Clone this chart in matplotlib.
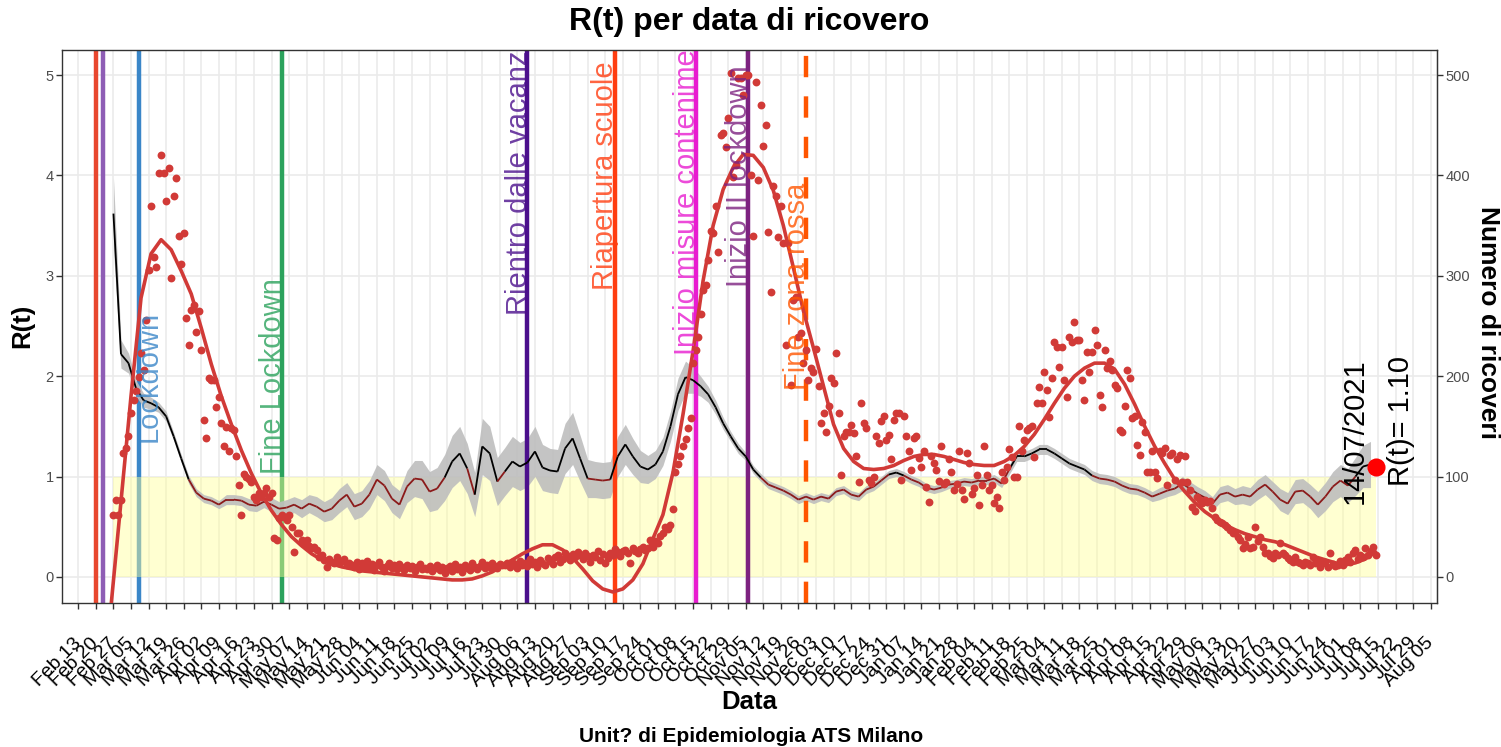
import matplotlib
matplotlib.use("Agg")
import matplotlib.pyplot as plt
import matplotlib.dates as mdates
from matplotlib.collections import LineCollection
import numpy as np
import pandas as pd

plt.rcParams["font.family"] = ["Liberation Sans", "DejaVu Sans"]

# ricoveri giornalieri (asse destro), dal 27/02/2020 al 14/07/2021
ricoveri_start = "2020-02-27"
ricoveri = [
    62, 77, 62,
    77, 123, 128, 140, 163, 176, 185, 199, 223, 206, 256, 306, 370, 319, 309, 402, 420, 402, 375, 407, 298, 380, 397, 340, 312, 343, 258, 231, 266, 271, 244,
    265, 226, 156, 138, 198, 196, 196, 169, 179, 153, 130, 149, 125, 148, 146, 120, 92, 62, 103, 100, 98, 95, 80, 77, 84, 80, 84, 89, 80, 84,
    39, 37, 59, 62, 60, 57, 62, 50, 25, 44, 44, 37, 33, 37, 31, 29, 30, 27, 20, 22, 17, 10, 18, 15, 14, 20, 14, 16, 18, 12, 14,
    12, 10, 15, 8, 14, 11, 16, 9, 13, 7, 12, 15, 10, 6, 11, 14, 9, 12, 8, 13, 10, 7, 12, 9, 11, 6, 10, 13, 8, 9,
    8, 11, 6, 9, 12, 7, 10, 4, 9, 11, 6, 13, 8, 10, 5, 12, 9, 7, 14, 10, 8, 11, 15, 9, 12, 10, 14, 11, 9, 13, 12,
    12, 14, 10, 15, 13, 9, 16, 12, 14, 11, 18, 13, 15, 10, 17, 14, 12, 19, 16, 13, 20, 22, 15, 18, 24, 21, 17, 23, 20, 25, 22,
    18, 24, 21, 15, 22, 20, 26, 17, 23, 14, 19, 24, 22, 28, 25, 21, 26, 27, 24, 14, 29, 26, 24, 28, 30, 27, 29, 37, 30, 36,
    34, 41, 44, 50, 48, 52, 68, 105, 112, 120, 130, 137, 148, 158, 213, 226, 239, 262, 286, 291, 316, 345, 343, 370, 324, 440, 442, 428, 457, 502, 398,
    410, 497, 497, 480, 500, 500, 400, 340, 493, 395, 470, 429, 450, 344, 284, 389, 380, 339, 370, 333, 231, 333, 191, 276, 279, 239, 243, 213, 226, 196,
    208, 204, 227, 190, 153, 163, 144, 170, 198, 193, 223, 163, 102, 140, 144, 144, 151, 143, 120, 95, 173, 153, 148, 97, 94, 100, 140, 133, 155, 160, 136,
    141, 117, 156, 163, 163, 97, 160, 140, 125, 107, 138, 140, 118, 110, 125, 90, 75, 120, 113, 107, 96, 130, 93, 95, 117, 105, 87, 93, 125, 87, 78,
    123, 113, 83, 89, 102, 72, 92, 130, 102, 87, 92, 74, 80, 69, 105, 97, 110, 127, 119, 100, 100, 150, 125, 136, 146, 148, 150, 119,
    173, 189, 173, 204, 186, 159, 198, 234, 229, 209, 229, 196, 179, 239, 234, 254, 236, 236, 196, 176, 224, 204, 224, 246, 231, 181, 169, 226, 208, 215, 206,
    191, 188, 146, 144, 170, 206, 198, 158, 160, 131, 121, 154, 144, 105, 105, 125, 105, 99, 125, 123, 128, 92, 121, 123, 97, 117, 121, 95, 120, 95,
    87, 70, 66, 80, 77, 74, 77, 75, 76, 69, 60, 57, 55, 54, 52, 50, 47, 44, 44, 40, 37, 29, 33, 40, 29, 30, 50, 36, 40, 30, 24,
    24, 21, 19, 24, 22, 34, 24, 22, 19, 17, 15, 20, 15, 14, 12, 15, 14, 12, 20, 14, 15, 10, 14, 15, 10, 24, 13, 11, 12, 16,
    12, 17, 20, 15, 24, 27, 18, 22, 20, 29, 22, 26, 30, 22,
]

# stima di R(t) ogni 3 giorni e semi-ampiezza dell'intervallo di confidenza
rt_start = "2020-02-27"
rt = [
    3.62, 2.22, 2.13, 1.88, 1.76, 1.73, 1.69, 1.60, 1.40, 1.18,
    0.97, 0.84, 0.78, 0.76, 0.72, 0.77, 0.77, 0.76, 0.72, 0.71,
    0.75, 0.72, 0.68, 0.69, 0.72, 0.68, 0.73, 0.70, 0.65, 0.68,
    0.76, 0.82, 0.70, 0.73, 0.82, 0.97, 0.91, 0.78, 0.72, 0.90,
    0.98, 0.97, 0.85, 0.88, 0.99, 1.15, 1.23, 1.08, 0.82, 1.30,
    1.23, 0.95, 1.05, 1.15, 1.10, 1.14, 1.25, 1.09, 1.06, 1.05,
    1.28, 1.38, 1.18, 0.98, 0.97, 0.96, 0.97, 1.20, 1.32, 1.20,
    1.10, 1.07, 1.12, 1.25, 1.50, 1.82, 1.99, 1.96, 1.90, 1.82,
    1.69, 1.53, 1.40, 1.28, 1.20, 1.07, 0.99, 0.92, 0.89, 0.86,
    0.82, 0.77, 0.80, 0.77, 0.80, 0.78, 0.85, 0.87, 0.82, 0.80,
    0.87, 0.90, 0.96, 1.02, 1.04, 1.01, 0.97, 0.94, 0.89, 0.87,
    0.89, 0.92, 0.93, 0.95, 0.94, 0.96, 0.96, 0.98, 0.93, 1.07,
    1.20, 1.20, 1.23, 1.27, 1.27, 1.23, 1.18, 1.13, 1.10, 1.07,
    1.01, 0.98, 0.97, 0.95, 0.91, 0.88, 0.87, 0.84, 0.80, 0.83,
    0.86, 0.88, 0.93, 0.88, 0.83, 0.79, 0.73, 0.82, 0.84, 0.80,
    0.82, 0.80, 0.87, 0.92, 0.85, 0.77, 0.73, 0.85, 0.86, 0.80,
    0.72, 0.80, 0.90, 0.96, 0.91, 1.00, 1.10, 1.12,
]
rt_ci = [
    0.36, 0.14, 0.10, 0.08, 0.07, 0.06, 0.05, 0.05, 0.04, 0.04,
    0.04, 0.04, 0.04, 0.04, 0.04, 0.05, 0.05, 0.05, 0.06, 0.06,
    0.06, 0.07, 0.07, 0.08, 0.08, 0.09, 0.09, 0.10, 0.10, 0.11,
    0.12, 0.12, 0.13, 0.13, 0.14, 0.15, 0.15, 0.14, 0.14, 0.16,
    0.18, 0.19, 0.20, 0.21, 0.23, 0.26, 0.27, 0.25, 0.22, 0.28,
    0.27, 0.24, 0.24, 0.25, 0.24, 0.24, 0.25, 0.23, 0.22, 0.22,
    0.25, 0.26, 0.23, 0.19, 0.18, 0.18, 0.18, 0.20, 0.20, 0.18,
    0.16, 0.14, 0.14, 0.14, 0.15, 0.16, 0.16, 0.13, 0.10, 0.08,
    0.07, 0.06, 0.05, 0.05, 0.04, 0.04, 0.04, 0.04, 0.04, 0.04,
    0.04, 0.04, 0.04, 0.04, 0.04, 0.04, 0.04, 0.04, 0.04, 0.04,
    0.04, 0.04, 0.04, 0.04, 0.04, 0.04, 0.04, 0.04, 0.04, 0.04,
    0.04, 0.04, 0.04, 0.04, 0.04, 0.04, 0.04, 0.04, 0.04, 0.05,
    0.05, 0.05, 0.05, 0.05, 0.05, 0.05, 0.05, 0.05, 0.05, 0.05,
    0.05, 0.05, 0.05, 0.05, 0.05, 0.05, 0.05, 0.05, 0.05, 0.06,
    0.06, 0.06, 0.07, 0.07, 0.07, 0.07, 0.07, 0.08, 0.08, 0.08,
    0.09, 0.09, 0.10, 0.10, 0.10, 0.11, 0.11, 0.12, 0.12, 0.12,
    0.13, 0.14, 0.15, 0.16, 0.17, 0.19, 0.21, 0.23,
]

# curva lisciata dei ricoveri (in unita' di R, ricoveri/100), ogni 4 giorni
smooth_start = "2020-02-26"
smooth = [
    -0.30, 0.75, 1.80, 2.78, 3.22, 3.36, 3.26, 3.05, 2.82, 2.48,
    2.12, 1.80, 1.52, 1.26, 1.03, 0.83, 0.66, 0.52, 0.40, 0.31,
    0.23, 0.17, 0.13, 0.10, 0.08, 0.06, 0.05, 0.04, 0.03, 0.02,
    0.01, 0.00, -0.01, -0.02, -0.03, -0.03, -0.02, 0.01, 0.05, 0.11,
    0.17, 0.23, 0.28, 0.32, 0.32, 0.27, 0.19, 0.08, -0.04, -0.12,
    -0.15, -0.12, -0.03, 0.13, 0.38, 0.62, 1.04, 1.62, 2.25, 2.95,
    3.50, 3.86, 4.08, 4.21, 4.20, 4.08, 3.85, 3.50, 3.08, 2.65,
    2.28, 1.90, 1.52, 1.28, 1.15, 1.08, 1.07, 1.08, 1.11, 1.16,
    1.20, 1.22, 1.22, 1.20, 1.17, 1.14, 1.12, 1.11, 1.11, 1.15,
    1.21, 1.30, 1.42, 1.57, 1.73, 1.88, 2.00, 2.08, 2.13, 2.13,
    2.07, 1.92, 1.72, 1.50, 1.30, 1.13, 0.97, 0.85, 0.74, 0.65,
    0.58, 0.52, 0.47, 0.43, 0.40, 0.37, 0.35, 0.32, 0.28, 0.24,
    0.20, 0.17, 0.14, 0.12, 0.14, 0.18, 0.25,
]

eventi_date = ["2020-02-20", "2020-02-23", "2020-03-08", "2020-05-04", "2020-08-10",
               "2020-09-14", "2020-10-16", "2020-11-06", "2020-11-29"]
eventi_label = ["", "", "Lockdown", "Fine Lockdown", "Rientro dalle vacanze",
                "Riapertura scuole", "Inizio misure contenimento", "Inizio II lockdown", "Fine zona rossa"]
eventi_colori = ["#E8472E", "#8E5DB5", "#3A86C8", "#2BA25C", "#4B0F8C",
                 "#FF3D10", "#E81CD0", "#7D2280", "#FF5500"]

ultimo_giorno = "2021-07-14"
ultimo_rt = 1.10


def main():
    fig = plt.figure(figsize=(15.01, 7.47), dpi=100)
    W, H = 1501, 747
    ax = fig.add_axes([62 / W, 1 - 603 / H, (1437 - 62) / W, (603 - 50) / H])

    d_ric = mdates.date2num(pd.date_range(ricoveri_start, periods=len(ricoveri), freq="D").to_pydatetime())
    d_rt = mdates.date2num(pd.date_range(rt_start, periods=len(rt), freq="3D").to_pydatetime())
    d_sm = mdates.date2num(pd.date_range(smooth_start, periods=len(smooth), freq="4D").to_pydatetime())
    d_ev = mdates.date2num(pd.to_datetime(eventi_date).to_pydatetime())
    d_last = mdates.date2num(pd.Timestamp(ultimo_giorno).to_pydatetime())

    rt_arr = np.array(rt)
    ci_arr = np.array(rt_ci)
    ric_arr = np.array(ricoveri) / 100.0

    # linee verticali degli eventi (le prime quattro stanno sotto la banda gialla)
    for i, (d, col) in enumerate(zip(d_ev, eventi_colori)):
        ls = (0, (4.8, 4.3)) if eventi_label[i] == "Fine zona rossa" else "-"
        ax.axvline(d, color=col, lw=3.2, ls=ls, zorder=1 if i < 4 else 2.5)

    # banda R(t) < 1
    ax.fill_between([d_ric[0], d_last], 0, 1, color="#FFFF99", alpha=0.45, lw=0, zorder=1.5)

    # intervallo di confidenza e R(t)
    ax.fill_between(d_rt, rt_arr - ci_arr, rt_arr + ci_arr, color="#BEBEBE", alpha=0.9, lw=0, zorder=2)
    pts = np.column_stack([d_rt, rt_arr])
    segs = np.stack([pts[:-1], pts[1:]], axis=1)
    cols = ["black" if (a + b) / 2 > 1 else "#8B1A1A" for a, b in zip(rt_arr[:-1], rt_arr[1:])]
    ax.add_collection(LineCollection(segs, colors=cols, linewidths=1.3, zorder=3))

    # ricoveri e curva lisciata
    ax.scatter(d_ric, ric_arr, s=32, color="#D13A37", lw=0, zorder=4)
    ax.plot(d_sm, smooth, color="#D13A37", lw=2.6, zorder=5, solid_capstyle="round")

    # etichette degli eventi
    shift = [0, 0, 4.0, -3.5, -3.5, -4.0, -3.3, -3.6, -3.6]
    bottom = [0, 0, 1.34, 1.03, 2.61, 2.86, 2.21, 2.89, 1.86]
    for i, lab in enumerate(eventi_label):
        if not lab:
            continue
        ax.text(d_ev[i] + shift[i], bottom[i], lab, rotation=90, color=eventi_colori[i],
                fontsize=21, ha="center", va="bottom", alpha=0.8, clip_on=True, zorder=6)

    # ultimo valore
    ax.scatter([d_last], [ultimo_rt], s=170, color="#FF0000", lw=0, zorder=7)
    ax.text(d_last - 8.3, 1.45, pd.Timestamp(ultimo_giorno).strftime("%d/%m/%Y"), rotation=90,
            fontsize=21, ha="center", va="center", zorder=7)
    ax.text(d_last + 10, 1.55, "R(t)= %.2f" % ultimo_rt, rotation=90,
            fontsize=21, ha="center", va="center", zorder=7)

    # assi
    ticks = mdates.date2num(pd.date_range("2020-02-13", "2021-08-05", freq="7D").to_pydatetime())
    ax.set_xticks(ticks)
    ax.xaxis.set_major_formatter(mdates.DateFormatter("%b %d"))
    ax.set_xlim(mdates.date2num(pd.Timestamp("2020-02-06 12:00").to_pydatetime()),
                mdates.date2num(pd.Timestamp("2021-08-07 12:00").to_pydatetime()))
    ax.set_ylim(-0.26, 5.25)
    ax.set_yticks([0, 1, 2, 3, 4, 5])

    ax.grid(True, color="#EBEBEB", lw=1.2, zorder=0)
    ax.set_axisbelow(True)
    for sp in ax.spines.values():
        sp.set_color("#333333")
        sp.set_linewidth(1.0)

    ax.tick_params(axis="y", length=4, width=1, color="#333333", labelsize=10.5, labelcolor="#4D4D4D", pad=2)
    ax.tick_params(axis="x", length=4, width=1, color="#333333", labelsize=14, labelcolor="black", pad=23)
    for lab in ax.get_xticklabels():
        lab.set_rotation(45)
        lab.set_ha("right")
        lab.set_va("center")
        lab.set_rotation_mode("anchor")

    sec = ax.secondary_yaxis("right", functions=(lambda r: r * 100, lambda n: n / 100))
    sec.set_yticks([0, 100, 200, 300, 400, 500])
    sec.tick_params(length=4, width=1, color="#333333", labelsize=10.5, labelcolor="#4D4D4D", pad=2)
    sec.spines["right"].set_color("#333333")

    # testi
    fig.text(749.5 / W, 1 - 22 / H, "R(t) per data di ricovero", fontsize=23, fontweight="bold",
             ha="center", va="center")
    fig.text(22 / W, 1 - 326 / H, "R(t)", fontsize=18.5, fontweight="bold", rotation=90,
             ha="center", va="center")
    fig.text(1488 / W, 1 - 323 / H, "Numero di ricoveri", fontsize=19, fontweight="bold", rotation=270,
             ha="center", va="center")
    fig.text(749.5 / W, 1 - 702 / H, "Data", fontsize=18.5, fontweight="bold", ha="center", va="center")
    fig.text(751 / W, 1 - 736 / H, "Unit? di Epidemiologia ATS Milano", fontsize=15, fontweight="bold",
             ha="center", va="center")

    fig.savefig("out.png", dpi=100)


if __name__ == "__main__":
    main()
